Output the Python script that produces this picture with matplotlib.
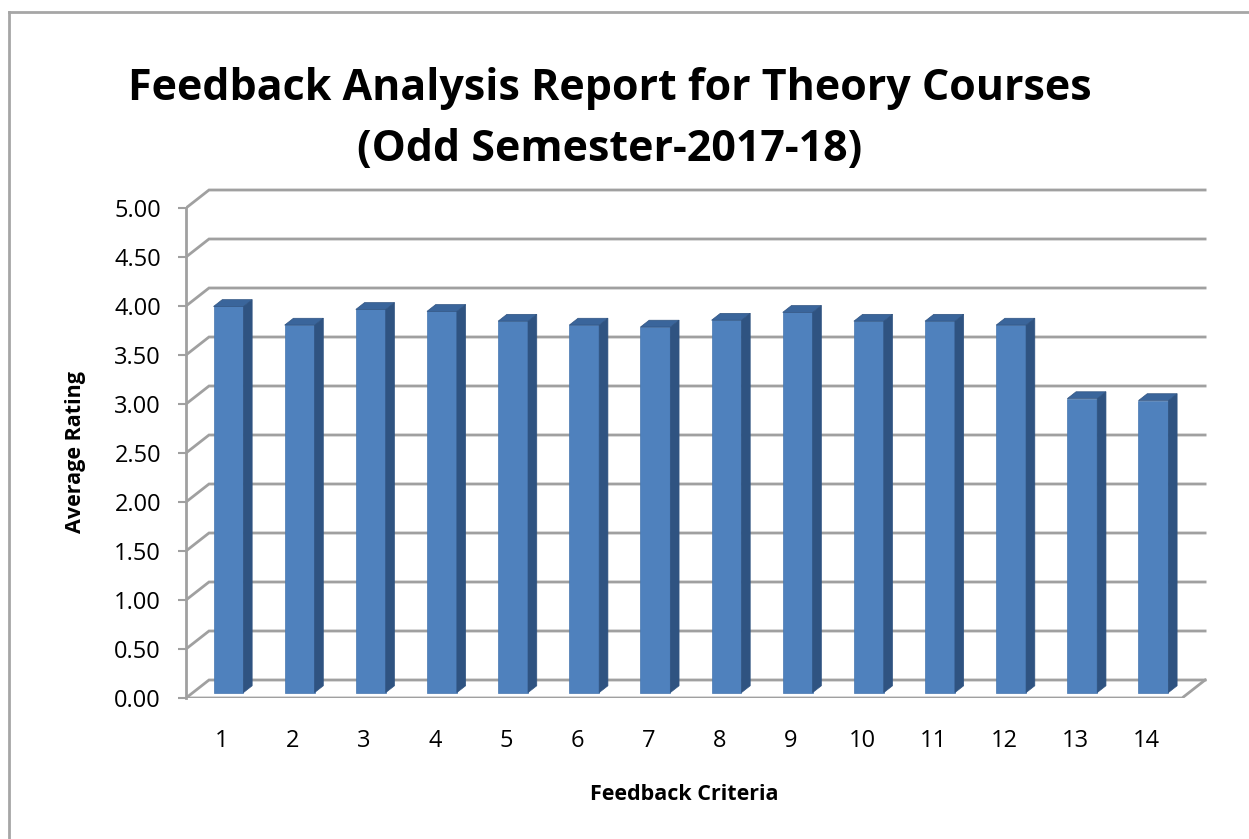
import numpy as np
import matplotlib
matplotlib.use("Agg")
import matplotlib.pyplot as plt
from matplotlib.patches import Polygon
from matplotlib.lines import Line2D

plt.rcParams['font.family'] = ['Open Sans', 'DejaVu Sans']

# data
criteria = np.arange(1, 15)
ratings = [3.94, 3.75, 3.91, 3.89, 3.79, 3.75, 3.73, 3.80, 3.88, 3.79, 3.79, 3.75, 3.00, 2.98]
yticks = np.arange(0, 5.01, 0.5)

W, H = 1249, 839
fig = plt.figure(figsize=(W / 100, H / 100), dpi=100)

# axes placed so the front plane matches the reference
ax = fig.add_axes([186 / W, 141 / H, 1024 / W, 513 / H])
ax.set_xlim(0.5, 0.5 + 1024 / 71.15)
ax.set_ylim(0, 513 / 98)

dx = 23 / 71.15   # depth offset in x (data units)
dy = 18 / 98      # depth offset in y
grid_c = '#a0a0a0'
x0, x1 = 0.5, 14.5

# back wall gridlines + left wall connectors
for yv in yticks:
    ax.plot([x0, x0 + dx, x1 + dx], [yv, yv + dy, yv + dy], color=grid_c, lw=2, zorder=1,
            solid_joinstyle='miter')
# floor front edge and right edge
ax.plot([x0, x1, x1 + dx], [0, 0, dy], color=grid_c, lw=2, zorder=1)

# bars as pseudo-3d columns
w = 0.42
t0, t1 = 0.30, 0.68
front_c, side_c, top_c = '#4f81bd', '#2f5381', '#3a659b'
ax.bar(criteria + t0 * dx, ratings, width=w, bottom=t0 * dy, color=front_c,
       edgecolor='#4677b0', lw=0.5, zorder=3)
for c, v in zip(criteria, ratings):
    xl = c - w / 2 + t0 * dx
    xr = c + w / 2 + t0 * dx
    side = [(xr, t0 * dy), (xr + (t1 - t0) * dx, t1 * dy),
            (xr + (t1 - t0) * dx, v + t1 * dy), (xr, v + t0 * dy)]
    top = [(xl, v + t0 * dy), (xr, v + t0 * dy),
           (xr + (t1 - t0) * dx, v + t1 * dy), (xl + (t1 - t0) * dx, v + t1 * dy)]
    ax.add_patch(Polygon(side, closed=True, facecolor=side_c, edgecolor=side_c, lw=0.5, zorder=3))
    ax.add_patch(Polygon(top, closed=True, facecolor=top_c, edgecolor=side_c, lw=0.5, zorder=4))

for s in ['top', 'right', 'bottom']:
    ax.spines[s].set_visible(False)
ax.spines['left'].set_bounds(0, 5)
ax.spines['left'].set_color(grid_c)
ax.spines['left'].set_linewidth(2)
ax.patch.set_visible(False)

ax.set_yticks(yticks)
ax.set_yticklabels(['%.2f' % v for v in yticks])
ax.tick_params(axis='y', direction='out', length=6, width=1.5, color=grid_c,
               labelsize=17, pad=12)
ax.set_xticks(criteria)
ax.set_xticklabels([str(c) for c in criteria])
ax.tick_params(axis='x', length=0, labelsize=17, pad=22)

# titles and axis names
fig.text(610 / W, 1 - 88 / H, 'Feedback Analysis Report for Theory Courses',
         ha='center', va='center', fontsize=31, fontweight='bold')
fig.text(610 / W, 1 - 150 / H, '(Odd Semester-2017-18)',
         ha='center', va='center', fontsize=31, fontweight='bold')
fig.text(75 / W, 1 - 452 / H, 'Average Rating', rotation=90,
         ha='center', va='center', fontsize=15.5, fontweight='bold')
fig.text(684 / W, 1 - 795 / H, 'Feedback Criteria',
         ha='center', va='center', fontsize=15.5, fontweight='bold')

# chart area border (only top and left are inside the crop)
bc = '#a6a6a6'
fig.add_artist(Line2D([9 / W, 9 / W], [0, 1 - 12 / H], color=bc, lw=2))
fig.add_artist(Line2D([9 / W, 1], [1 - 12 / H, 1 - 12 / H], color=bc, lw=2))

fig.savefig('out.png', dpi=100)
